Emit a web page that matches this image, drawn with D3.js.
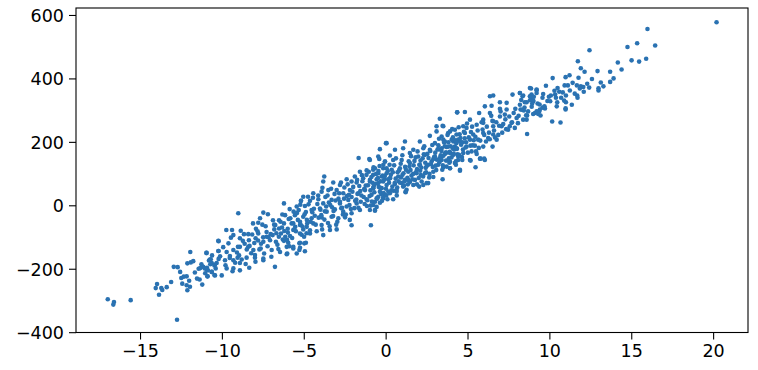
<!DOCTYPE html>
<html>
<head>
<meta charset="utf-8">
<script src="https://cdn.jsdelivr.net/npm/d3@7"></script>
<style>
  body { margin: 0; background: #fff; }
  svg { display: block; }
  .tick text { font-family: "DejaVu Sans", sans-serif; font-size: 17.5px; fill: #000; }
</style>
</head>
<body>
<div id="chart"></div>
<script>
// tick values
var xTicks = [-15, -10, -5, 0, 5, 10, 15, 20];
var yTicks = [-400, -200, 0, 200, 400, 600];

// scatter samples [x, y]
var samples = [
  // lower tail
  [-16.97,-296],[-16.59,-305],[-16.63,-313],[-15.57,-299],[-12.74,-361],
  [-14.04,-261],[-13.96,-248],[-13.84,-282],[-13.70,-261],[-13.64,-267],[-13.37,-258],
  [-12.94,-194],[-12.70,-195],[-12.48,-229],[-12.33,-225],[-12.15,-224],[-12.42,-247],
  [-12.15,-252],[-11.95,-257],[-12.11,-268],[-11.93,-147],[-12.11,-183],[-11.90,-180],
  [-11.75,-176],[-11.42,-200],[-11.32,-198],[-11.36,-234],[-11.20,-250],[-10.95,-150],
  [-11.05,-199],[-10.91,-197],[-10.87,-224],[-10.79,-174],[-10.68,-170],[-10.62,-182],
  [-10.62,-210],[-10.46,-220],[-10.46,-190],[-10.32,-182],[-10.20,-113],[-10.20,-144],
  [-10.20,-169],
  // -11 .. -4.7
  [-4.74,27],[-6.21,6],[-5.17,14],[-9.00,-25],[-7.47,-23],[-7.19,-28],[-5.31,-15],
  [-4.87,-21],[-6.31,-29],[-7.67,-41],[-6.51,-47],[-5.92,-43],[-8.10,-57],[-7.78,-55],
  [-7.53,-61],[-6.74,-62],[-6.21,-57],[-5.74,-57],[-5.23,-52],[-9.73,-78],[-9.38,-78],
  [-7.92,-74],[-7.27,-84],[-6.80,-76],[-6.51,-73],[-6.33,-70],[-5.98,-74],[-5.52,-68],
  [-5.03,-76],[-4.79,-57],[-8.65,-91],[-8.39,-91],[-7.78,-89],[-7.27,-99],[-6.90,-94],
  [-6.39,-89],[-6.13,-99],[-5.84,-97],[-5.13,-93],[-9.30,-94],[-8.90,-104],[-8.35,-110],
  [-7.94,-104],[-7.47,-115],[-7.06,-110],[-6.70,-115],[-6.21,-112],[-5.95,-118],
  [-5.23,-118],[-4.87,-118],[-10.22,-112],[-8.90,-131],[-8.39,-131],[-8.08,-141],
  [-7.63,-136],[-6.96,-141],[-6.45,-147],[-6.01,-152],[-5.64,-136],[-5.27,-141],
  [-4.93,-145],[-10.93,-150],[-10.22,-144],[-9.71,-147],[-9.30,-141],[-9.51,-160],
  [-9.04,-165],[-8.49,-165],[-7.98,-165],[-7.47,-168],[-10.73,-171],[-10.42,-187],
  [-9.81,-173],[-9.30,-173],[-8.90,-182],[-9.71,-199],[-9.30,-199],[-8.90,-205],
  [-8.33,-197],[-11.14,-194],[-10.93,-202],[-10.62,-210],[-10.42,-221],[-10.01,-221],
  [-6.76,-194],[-10.89,-224],[-7.47,-173],[-7.98,-157],[-6.04,-154],[-5.43,-152],
  [-5.64,-131],[-6.04,-131],
  // -5.6 .. 0.3
  [0.06,196],[0.26,157],[-1.65,149],[-1.00,146],[-0.39,146],[-0.04,138],[-0.37,124],
  [0.06,117],[-1.57,106],[-1.16,110],[-0.76,112],[-0.45,101],[0.06,101],[-3.75,91],
  [-3.81,75],[-3.20,72],[-2.79,64],[-2.38,82],[-2.08,75],[-1.77,72],[-1.37,85],
  [-0.96,80],[-0.55,82],[-0.15,75],[-3.91,43],[-3.50,48],[-2.99,48],[-2.59,38],
  [-2.18,48],[-1.67,38],[-1.26,48],[-0.76,54],[-0.24,54],[-4.42,38],[-5.03,27],
  [-5.17,14],[-4.62,14],[-4.11,19],[-3.81,6],[-3.30,17],[-2.79,6],[-2.28,17],[-1.77,6],
  [-1.16,19],[-0.65,11],[-0.15,22],[-5.43,-4],[-4.93,-2],[-4.52,-15],[-4.01,-10],
  [-3.60,-20],[-3.10,-13],[-2.59,-20],[-2.08,-25],[-1.57,-15],[-0.96,-15],[-0.65,-15],
  [-5.54,-31],[-5.03,-36],[-4.52,-41],[-3.91,-38],[-3.30,-36],[-2.89,-41],[-2.48,-38],
  [-2.08,-63],[-0.90,-63],[-5.64,-57],[-5.23,-62],[-4.82,-68],[-4.42,-57],[-3.91,-62],
  [-3.40,-78],[-2.99,-76],[-3.81,-94],[-5.64,-78],[-5.23,-89],[-4.62,-89],[-5.27,-120],
  [-4.97,-120],[-5.23,-134],
  // -1 .. 4.5
  [3.31,273],[4.37,293],[3.11,249],[3.48,251],[3.93,233],[4.23,238],[3.11,233],
  [3.42,217],[2.70,219],[2.09,201],[3.01,196],[3.62,201],[4.13,201],[4.43,207],
  [1.18,201],[0.02,196],[1.07,180],[1.69,175],[2.30,180],[2.70,175],[3.21,177],
  [3.72,184],[4.23,185],[-0.35,177],[0.57,175],[1.48,165],[1.99,154],[2.40,159],
  [3.01,154],[3.42,154],[3.93,165],[4.43,154],[-0.45,154],[-0.04,138],[0.46,143],
  [0.98,143],[1.48,133],[2.09,128],[2.60,128],[3.21,128],[3.72,122],[4.23,133],
  [-0.96,143],[-0.65,117],[-0.15,117],[0.37,112],[0.87,117],[1.38,106],[1.89,101],
  [2.40,101],[2.91,106],[3.93,117],[-0.76,96],[-0.24,91],[0.26,85],[0.77,91],[1.18,80],
  [1.79,80],[2.20,75],[2.60,70],[3.48,82],[-0.96,75],[-0.45,70],[0.06,64],[0.57,67],
  [1.07,59],[0.67,48],[1.22,43],[1.69,64],[2.30,64],[-0.76,54],[-0.35,43],[0.16,43],
  [-0.86,33],[-0.55,22],[-0.15,25],[0.46,19],[-0.76,1],[-0.35,8],
  [4.54,109],[2.91,89],[2.50,70],[2.05,59],[1.22,41],[0.67,43],[0.26,38],[-0.04,33],
  [-0.45,27],[-0.65,-17],[0.98,70],[1.38,80],
  // 3.4 .. 9.4
  [8.81,370],[9.22,365],[7.75,349],[8.20,354],[8.36,344],[8.81,344],[6.37,344],
  [6.57,346],[9.01,328],[8.61,325],[8.20,317],[7.39,323],[6.98,325],[6.47,314],
  [6.06,312],[9.12,291],[9.38,296],[6.98,304],[7.39,302],[4.37,293],[4.84,294],
  [5.71,291],[6.37,291],[6.98,280],[7.28,286],[8.00,275],[8.40,270],[8.61,270],
  [5.15,270],[5.96,270],[6.57,265],[7.69,260],[7.89,244],[7.48,238],[7.08,249],
  [6.57,249],[5.96,260],[5.56,254],[4.74,249],[4.94,244],[3.52,249],[8.64,225],
  [6.57,223],[5.96,228],[5.35,223],[4.84,228],[4.33,223],[3.82,228],[6.26,212],
  [6.78,207],[5.65,207],[5.15,207],[4.54,201],[4.03,207],[3.52,207],[6.53,185],
  [5.96,185],[5.45,188],[4.94,185],[4.33,180],[3.82,185],[3.42,180],[5.25,170],
  [4.74,165],[4.13,159],[3.62,162],[5.76,147],[6.02,147],[5.15,143],[4.43,143],
  [3.93,138],[3.42,143],[4.54,112],[3.93,117],[3.52,120],
  [5.49,120],[5.19,141],[4.68,143],[5.80,147],[6.06,143],[5.56,162],[4.29,128],
  [10.17,264],[10.68,261],[10.99,302],
  // upper tail
  [20.21,577],[15.99,556],[15.36,511],[14.77,499],[16.46,504],[12.45,489],[15.02,457],
  [15.48,453],[15.91,462],[14.18,450],[14.41,428],[11.74,454],[11.92,432],[12.15,421],
  [12.94,423],[13.71,421],[11.23,410],[10.99,404],[10.20,401],[11.78,402],[13.92,400],
  [13.14,387],[13.71,389],[12.31,383],[12.43,371],[13.00,369],[13.00,362],[12.07,373],
  [11.92,375],[11.68,378],[11.86,368],[9.79,377],[10.93,378],[11.13,378],[10.50,370],
  [10.60,358],[8.88,368],[9.22,363],[9.22,354],[8.20,354],[8.40,346],[8.91,349],
  [8.89,339],[9.97,342],[10.09,346],[10.35,349],[10.40,339],[10.72,339],[11.01,346],
  [11.70,346],[11.72,339],[9.58,339],[11.01,325],[10.48,325],[11.37,317],[10.99,306],
  [8.81,331],[8.95,321],[9.01,331],[8.50,325],[8.24,302],[8.44,299],[9.73,305],
  [9.58,308],[9.42,302],[9.22,296],[9.01,288],[9.32,288],[8.64,283],[9.46,283],
  // dense core, extra
  [-4.48,-22],[-4.17,4],[-3.93,-31],[-3.68,26],[-3.47,9],[-3.27,-6],[-3.12,36],
  [-2.88,21],[-2.71,-9],[-2.52,56],[-2.37,29],[-2.21,1],[-2.03,43],[-1.88,91],
  [-1.79,18],[-1.61,61],[-1.48,31],[-1.42,76],[-1.28,4],[-1.17,96],[-1.08,63],
  [-0.98,29],[-0.87,89],[-0.81,71],[-0.69,41],[-0.58,99],[-0.47,86],[-0.42,58],
  [-0.27,36],[-0.18,94],[-0.09,81],[0.02,52],[0.13,108],[0.21,71],[0.32,96],[0.41,59],
  [0.52,126],[0.61,84],[0.73,104],[0.79,76],[0.92,131],[1.03,96],[1.12,62],[1.19,121],
  [1.33,87],[1.41,139],[1.52,111],[1.58,94],[1.71,126],[1.83,151],[1.92,114],
  [2.02,86],[2.13,141],[2.18,119],[2.33,161],[2.42,134],[2.47,104],[2.62,149],
  [2.73,171],[2.81,139],[2.88,121],[3.03,166],[3.12,144],[3.22,189],[3.28,136],
  [3.41,171],[3.53,156],[3.61,186],[3.69,141],[3.83,199],[3.92,169],[4.02,151],
  [4.11,214],[4.18,176],[4.32,196],[4.38,161],[4.52,224],[4.61,191],[4.72,176],
  [4.83,211],[4.91,199],[5.02,166],[5.21,231],[5.32,189],[5.48,216],[5.69,181],
  [5.92,239],[6.13,201],[6.31,229],[6.52,266],[6.68,214],[6.93,251],[7.12,229],
  [7.31,271],[7.58,249],[7.82,291],[8.08,259],[8.33,301],[8.58,284],[8.92,311],
  [9.28,321],[9.62,351],[9.88,329],[10.31,361],[10.82,356],[11.42,386],
  [-5.82,-41],[-5.58,-76],[-5.41,-24],[-5.19,-61],[-4.98,-99],[-4.81,-46],[-4.62,-79],
  [-4.38,-11],[-4.27,-61],[-4.09,-39],[-3.88,-76],[-3.71,-19],[-3.52,-56],[-3.38,1],
  [-3.21,-34],[-3.02,-61],[-2.79,11],[-2.61,-29],[-2.38,-4],[-2.19,-46],[-2.08,26],
  [-1.91,-9],[-1.72,36],[-1.52,11],[-1.31,51],[-1.12,16],[-0.91,-1],[-0.72,61],
  [-0.51,21],[-0.31,76],[-0.12,39],[0.11,19],[0.28,86],[0.49,46],[0.68,31],[0.88,71],
  [1.09,101],[1.28,49],[1.49,74],[1.68,99],[1.91,66],[2.11,109],[2.29,91],[2.51,124],
  [2.68,99],[2.91,146],[3.09,111],[3.31,149],[3.49,126],[3.71,166],[3.89,134],
  [4.09,181],[4.29,139],[4.48,159],[4.69,199],
  [-6.52,-99],[-6.81,-61],[-7.02,-91],[-7.21,-129],[-7.48,-101],[-7.71,-139],
  [-8.02,-119],[-8.21,-151],[-8.48,-139],[-8.79,-171],[-9.02,-131],[-9.19,-181],
  [-9.52,-166],[-9.78,-189],[-10.11,-161],[-10.38,-199],[-10.71,-186],[-11.02,-214],
  [-11.52,-231],[-6.19,-81],[-6.02,-109],[-5.88,-129],[-6.61,-124],[-7.79,-111],
  [-8.61,-121],[-9.08,-149],
  // band fill
  [-9.6,-120],[-9.35,-208],[-8.95,-158],[-8.72,-112],[-8.55,-185],[-8.31,-128],
  [-8.15,-92],[-7.95,-178],[-7.82,-82],[-7.61,-121],[-7.42,-152],[-7.33,-66],
  [-7.15,-101],[-6.98,-162],[-6.88,-47],[-6.67,-88],[-6.55,-138],[-6.42,-52],
  [-6.28,-108],[-6.14,-31],[-5.97,-86],[-5.86,-12],[-5.71,-103],[-5.62,-20],
  [-5.48,-82],[-5.36,-46],[-5.21,2],[-5.08,-67],[-4.95,-28],[-4.83,-88],[-4.71,3],
  [-4.58,-52],[-4.44,24],[-4.33,-33],[-4.21,-82],[-4.12,31],[-3.98,-14],[-3.86,55],
  [-3.74,-45],[-3.63,-4],[-3.55,31],[-3.42,-66],[-3.33,52],[-3.18,-18],[-3.06,15],
  [-2.95,-52],[-2.84,38],[-2.73,72],[-2.66,-8],[-2.54,21],[-2.43,-29],[-2.32,66],
  [-2.24,33],[-2.12,-12],[-1.98,58],[-1.86,14],[-1.74,80],[-1.66,-8],[-1.55,45],
  [-1.45,95],[-1.34,26],[-1.22,62],[-1.14,-2],[-1.03,106],[-0.93,47],[-0.84,12],
  [-0.74,120],[-0.63,68],[-0.55,-5],[-0.44,108],[-0.33,55],[-0.22,14],[-0.14,128],
  [-0.05,92],[0.04,31],[0.15,82],[0.24,128],[0.35,47],[0.44,104],[0.55,70],[0.63,148],
  [0.71,56],[0.82,110],[0.94,88],[1.02,158],[1.14,75],[1.24,112],[1.36,66],[1.45,122],
  [1.55,155],[1.63,82],[1.76,140],[1.86,105],[1.95,170],[2.06,128],[2.15,95],
  [2.26,148],[2.36,186],[2.45,118],[2.55,162],[2.66,88],[2.77,130],[2.85,190],
  [2.96,152],[3.06,125],[3.17,176],[3.26,210],[3.36,158],[3.46,112],[3.57,198],
  [3.66,166],[3.78,222],[3.86,148],[3.97,186],[4.06,240],[4.16,162],[4.26,205],
  [4.36,178],[4.46,246],[4.57,212],[4.66,152],[4.78,232],[4.88,182],[4.97,258],
  [5.08,214],[5.18,188],[5.28,248],[5.38,205],[5.52,170],[5.62,236],[5.78,204],
  [5.86,262],[6.02,222],[6.18,248],[6.36,208],[6.45,282],[6.62,236],[6.76,262],
  [6.88,222],[7.02,296],[7.18,256],[7.36,240],[7.55,280],[7.72,262],[7.92,304],
  [8.12,282],[8.28,332],[8.48,308],[8.70,296],[9.05,342],[9.40,318],[9.70,312],
  [10.05,328],[10.45,312],[10.90,330],[11.25,362],[11.55,352],[12.10,358],[12.60,398],
  [13.30,375],[-10.60,-158],[-10.85,-205],[-11.25,-186],[-11.65,-212],[-12.00,-238],
  [-12.55,-210],[-13.10,-242],[-9.92,-132],[-9.45,-102],[-8.85,-80]
];

(function() {
  var width = 758, height = 370;
  var plotLeft = 76, plotRight = 748, plotTop = 8, plotBottom = 332.5;

  var svg = d3.select("#chart").append("svg")
    .attr("width", width)
    .attr("height", height);

  var x = d3.scaleLinear().domain([-18.91, 22.13]).range([plotLeft, plotRight]);
  var y = d3.scaleLinear().domain([-401, 622]).range([plotBottom, plotTop]);

  var fmt = function(d) { return d < 0 ? "\u2212" + Math.abs(d) : "" + d; };

  svg.append("g")
    .selectAll("circle")
    .data(samples)
    .enter().append("circle")
    .attr("cx", function(d) { return x(d[0]); })
    .attr("cy", function(d) { return y(d[1]); })
    .attr("r", 2.3)
    .attr("fill", "#2a72b2");

  var xAxis = svg.append("g")
    .attr("transform", "translate(0," + plotBottom + ")")
    .call(d3.axisBottom(x).tickValues(xTicks).tickFormat(fmt).tickSize(7).tickPadding(5));

  var yAxis = svg.append("g")
    .attr("transform", "translate(" + plotLeft + ",0)")
    .call(d3.axisLeft(y).tickValues(yTicks).tickFormat(fmt).tickSize(7).tickPadding(5));

  xAxis.select(".domain").remove();
  yAxis.select(".domain").remove();
  svg.selectAll(".tick line").attr("stroke", "#000").attr("stroke-width", 1.1);
  yAxis.selectAll(".tick text").attr("dy", "0.36em");

  // frame
  svg.append("rect")
    .attr("x", plotLeft).attr("y", plotTop)
    .attr("width", plotRight - plotLeft).attr("height", plotBottom - plotTop)
    .attr("fill", "none")
    .attr("stroke", "#000")
    .attr("stroke-width", 1.1);
})();
</script>
</body>
</html>
